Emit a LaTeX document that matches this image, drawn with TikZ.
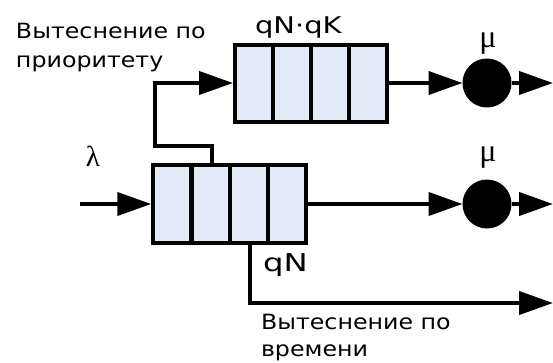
\documentclass[tikz,border=0pt]{standalone}
\usepackage{fontspec}
\setmainfont{DejaVu Sans}
\newfontfamily\greekfont{Liberation Serif}
\usetikzlibrary{arrows.meta,calc}
\definecolor{cellfill}{RGB}{228,235,246}
\newcommand{\wide}[2]{\scalebox{#1}[1]{#2}}
\newcommand{\twolines}[2]{\begin{tabular}[b]{@{}l@{}}#1\\#2\end{tabular}}
\tikzset{
  cell/.style={draw, fill=cellfill, minimum width=38pt, minimum height=77pt, inner sep=0pt},
  server/.style={circle, fill=black, minimum size=49pt, inner sep=0pt, outer sep=0pt},
  flow/.style={-{Triangle[length=34pt,width=23pt]}},
  lbl/.style={font=\fontsize{21}{29}\selectfont, inner sep=0pt, anchor=base west},
  greek/.style={font=\greekfont\fontsize{32}{32}\selectfont, inner sep=0pt, anchor=base}
}

\begin{document}
\begin{tikzpicture}[x=1pt,y=-1pt,line width=4pt]
    \useasboundingbox (0,0) rectangle (553,362);
    % queues
    \foreach \i in {1,...,4}
        \node [cell] (up\i) at ({216+38*\i},83) {};
    \foreach \i in {1,...,4}
        \node [cell,minimum height=78pt] (lo\i) at ({134+38.25*\i},204) {};
    % servers
    \node [server] (srvup) at (487,83) {};
    \node [server] (srvlo) at (487,204) {};
    \coordinate (in) at (80,204);
    \coordinate (outup) at (553,83);
    \coordinate (outlo) at (553,204);
    \coordinate (outtime) at (553,303);
    \coordinate (bend) at (155,146);
    % flows
    \draw [flow] (in) -- (lo1.west);
    \draw [flow] (lo4.east) -- (srvlo.west);
    \draw [flow] (srvlo.east) -- (outlo);
    \draw [flow] (up4.east) -- (srvup.west);
    \draw [flow] (srvup.east) -- (outup);
    \draw [flow] ([xshift=1.5pt]lo2.north) |- (bend) |- (up1.west);
    \draw [flow] ([xshift=1.5pt]lo3.south) |- (outtime);
    % labels
    \node [lbl] (prio) at (14,67) {\wide{1.13}{\twolines{Вытеснение по}{приоритету}}};
    \node [lbl] (time) at (259,356) {\wide{1.13}{\fontsize{21}{27}\selectfont\twolines{Вытеснение по}{времени}}};
    \node [lbl,font=\fontsize{23}{23}\selectfont] (capup) at (253,33) {\wide{1.26}{qN·qK}};
    \node [lbl,font=\fontsize{24.5}{24.5}\selectfont] (caplo) at (261,271) {\wide{1.32}{qN}};
    \node [greek] (muup) at (488,47) {μ};
    \node [greek] (mulo) at (488,161) {μ};
    \node [greek,font=\greekfont\fontsize{29}{29}\selectfont] (lam) at (93,166) {λ};
\end{tikzpicture}
\end{document}
